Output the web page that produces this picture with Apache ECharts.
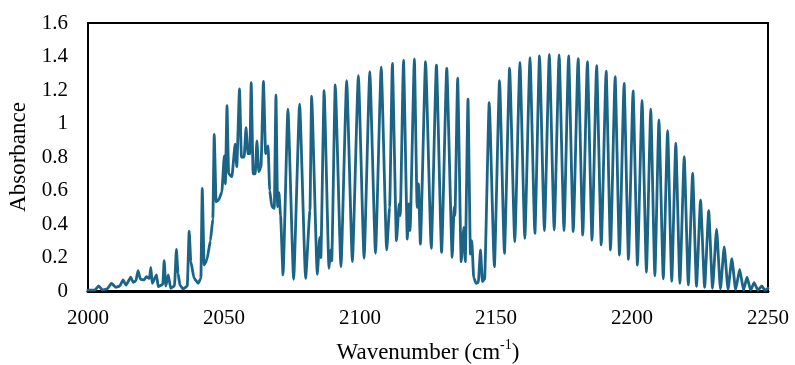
<!DOCTYPE html>
<html>
<head>
<meta charset="utf-8">
<script src="https://cdn.jsdelivr.net/npm/echarts@6/dist/echarts.min.js"></script>
<style>
  html, body { margin: 0; padding: 0; background: #fff; }
  #chart { width: 795px; height: 365px; }
</style>
</head>
<body>
<div id="chart"></div>
<script>
// CO fundamental band: [wavenumber (cm-1), absorbance] pairs
const lowTail = [
  [2000.0,0.005],[2002.5,0.005],[2003.9,0.030],[2005.3,0.006],[2007.0,0.012],[2008.6,0.046],
  [2010.2,0.022],[2011.7,0.030],[2012.9,0.066],[2014.0,0.035],[2015.7,0.082],[2016.6,0.052],
  [2017.6,0.060],[2018.4,0.121],[2019.3,0.070],[2020.6,0.066],[2021.5,0.086],[2022.6,0.075],
  [2023.1,0.141],[2023.6,0.046],[2025.2,0.096],[2025.8,0.026],[2027.5,0.040],[2028.0,0.181],
  [2028.6,0.030],[2029.5,0.096],[2030.4,0.016],[2031.8,0.030],[2032.5,0.249],[2033.1,0.106],
  [2033.8,0.035],[2035.0,0.012],[2036.5,0.030],[2037.2,0.358],[2037.8,0.175],[2039.0,0.076],
  [2040.5,0.046],[2041.5,0.075]
];

const pBranch = [
  [2042.0,0.613],[2042.7,0.155],[2043.7,0.185],[2045.0,0.300],[2045.9,0.430],[2046.4,0.935],
  [2047.1,0.533],[2048.0,0.543],[2049.2,0.590],[2050.1,0.806],[2050.5,0.640],[2051.1,1.106],
  [2051.7,0.700],[2052.9,0.683],[2054.1,0.876],[2054.7,0.742],[2055.7,1.206],[2056.4,0.800],
  [2057.4,0.800],[2058.1,0.975],[2058.8,0.820],[2059.5,0.820],[2060.0,1.244],[2060.7,0.700],
  [2061.5,0.700],[2062.1,0.896],[2062.8,0.712],[2063.6,0.740],[2064.5,1.252],[2065.3,0.820],
  [2066.2,0.866],[2066.8,0.600],[2067.6,0.503],[2068.5,0.494],[2069.1,1.170],[2069.7,0.503],
  [2070.2,0.587],[2070.8,0.450],[2071.7,0.096],[2073.5,1.085],[2075.6,0.070],[2077.8,1.116],
  [2080.0,0.076],[2081.6,0.480],[2082.2,1.164],[2084.3,0.100],[2085.2,0.320],[2085.6,0.200],
  [2086.8,1.196],[2088.6,0.135],[2089.2,0.245],[2089.6,0.180],[2090.9,1.230],[2093.0,0.145],
  [2095.1,1.256],[2097.2,0.175],[2099.4,1.285],[2101.5,0.195],[2103.6,1.309],[2105.7,0.225],
  [2107.8,1.336],[2109.8,0.245],[2110.9,0.500],[2111.9,1.359],[2113.4,0.300],[2114.4,0.520],
  [2114.8,0.450],[2116.0,1.377],[2117.4,0.310],[2117.9,0.520],[2118.4,0.360],[2120.0,1.385],
  [2121.0,0.500],[2121.5,0.640],[2122.2,0.280],[2124.1,1.369],[2126.2,0.255],[2128.1,1.349],
  [2130.0,0.231],[2131.9,1.329],[2133.9,0.201],[2134.6,0.500],[2134.9,0.450],[2135.9,1.270],
  [2137.2,0.175],[2138.2,0.380],[2138.7,0.175],[2139.7,1.146],[2140.6,0.220],[2141.1,0.300],
  [2141.8,0.080],[2142.7,0.046]
];

const rBranch = [
  [2143.5,0.050],[2144.3,0.245],[2145.0,0.056],[2145.8,0.070],[2147.5,1.124],[2149.4,0.145],
  [2151.3,1.256],[2153.1,0.225],[2155.0,1.330],[2156.9,0.294],[2158.8,1.365],[2160.6,0.314],
  [2162.5,1.393],[2164.3,0.344],[2166.0,1.403],[2167.8,0.360],[2169.6,1.413],[2171.4,0.364],
  [2173.2,1.409],[2175.0,0.360],[2176.7,1.403],[2178.4,0.354],[2180.2,1.387],[2181.9,0.334],
  [2183.6,1.369],[2185.3,0.304],[2187.0,1.345],[2188.7,0.275],[2190.5,1.313],[2192.1,0.245],
  [2193.8,1.279],[2195.4,0.215],[2197.1,1.240],[2198.7,0.189],[2200.4,1.194],[2202.0,0.155],
  [2203.7,1.138],[2205.3,0.112],[2206.9,1.085],[2208.4,0.090],[2209.9,1.021],[2211.5,0.072],
  [2213.1,0.957],[2214.6,0.058],[2216.1,0.882],[2217.6,0.046],[2219.2,0.802],[2220.7,0.036],
  [2222.3,0.703],[2223.7,0.028],[2225.2,0.543],[2226.7,0.022],[2228.2,0.479],[2229.6,0.016],
  [2231.1,0.370],[2232.5,0.012],[2233.9,0.264],[2235.3,0.010],[2236.7,0.193],[2238.1,0.008],
  [2239.6,0.129],[2241.0,0.006],[2242.3,0.082],[2243.6,0.005],[2244.9,0.050],[2246.3,0.004],
  [2247.7,0.030],[2248.9,0.004],[2250.0,0.016]
];

const xTicks = [2000, 2050, 2100, 2150, 2200, 2250];
const yTicks = [0, 0.2, 0.4, 0.6, 0.8, 1, 1.2, 1.4, 1.6];

const spectrum = lowTail.concat(pBranch, rBranch);

const serif = "'Liberation Serif', 'Times New Roman', serif";
const chart = echarts.init(document.getElementById('chart'), null, { renderer: 'canvas' });

chart.setOption({
  animation: false,
  backgroundColor: '#ffffff',
  grid: {
    left: 88, right: 27, top: 23, bottom: 74,
    outerBoundsMode: 'none',
    containLabel: false,
    show: true, borderColor: '#000', borderWidth: 2, backgroundColor: 'transparent'
  },
  xAxis: {
    type: 'value',
    min: xTicks[0],
    max: xTicks[xTicks.length - 1],
    interval: xTicks[1] - xTicks[0],
    name: '{t|Wavenumber (cm}{s|-1}{t|)}',
    nameLocation: 'middle',
    nameGap: 47,
    nameTextStyle: {
      rich: {
        t: { fontFamily: serif, fontSize: 23, color: '#000', lineHeight: 26, verticalAlign: 'bottom' },
        s: { fontFamily: serif, fontSize: 14, color: '#000', lineHeight: 26, verticalAlign: 'top' }
      }
    },
    axisLine: { show: true, onZero: false, lineStyle: { color: '#000', width: 3 } },
    axisTick: { show: false },
    splitLine: { show: false },
    axisLabel: { fontFamily: serif, fontSize: 21, color: '#000', margin: 17, formatter: v => String(v) }
  },
  yAxis: {
    type: 'value',
    min: yTicks[0],
    max: yTicks[yTicks.length - 1],
    interval: 0.2,
    name: 'Absorbance',
    nameLocation: 'middle',
    nameRotate: 90,
    nameGap: 58,
    nameTextStyle: { fontFamily: serif, fontSize: 23, color: '#000' },
    axisLine: { show: true, lineStyle: { color: '#000', width: 2 } },
    axisTick: { show: false },
    splitLine: { show: false },
    axisLabel: {
      fontFamily: serif, fontSize: 21, color: '#000', margin: 20,
      formatter: v => String(Math.round(v * 10) / 10)
    }
  },
  series: [{
    type: 'line',
    data: spectrum,
    showSymbol: false,
    smooth: 0.15,
    smoothMonotone: 'x',
    clip: true,
    lineStyle: { color: '#1b6486', width: 2.8, join: 'round', cap: 'round' }
  }]
});
</script>
</body>
</html>
